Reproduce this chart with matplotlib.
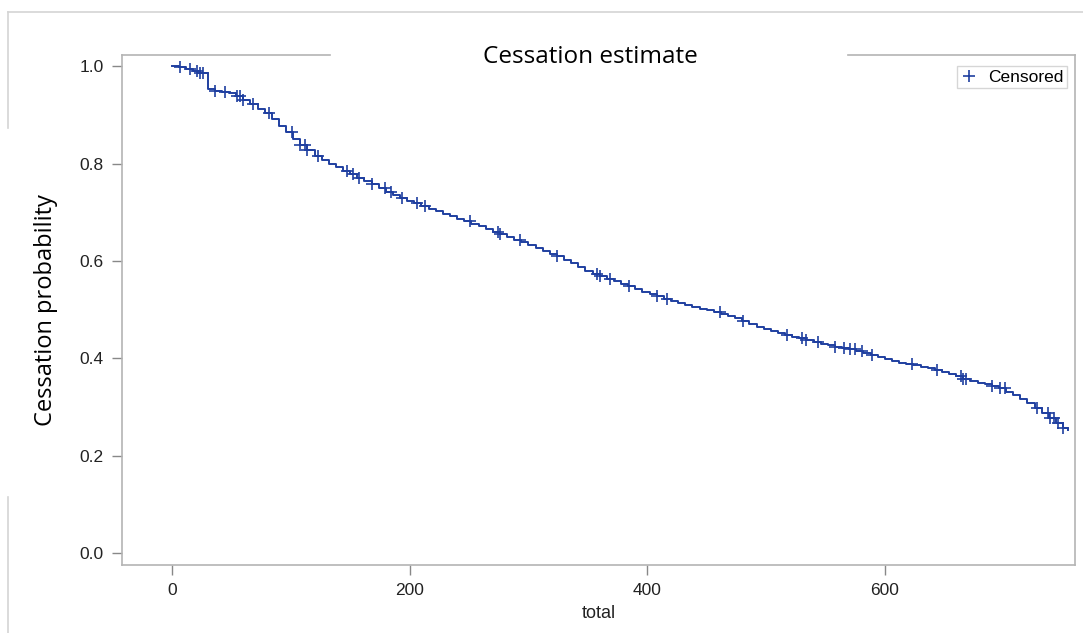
#!/usr/bin/env python3
"""Kaplan-Meier style cessation estimate with censored marks."""

import numpy as np
import matplotlib
matplotlib.use("Agg")
import matplotlib.pyplot as plt
from matplotlib.lines import Line2D

# step curve knots (time, survival)
EVENT_TIMES = [0, 6, 12, 18, 24, 30, 36, 42, 48, 54, 60, 66, 72, 78, 84, 90, 96,
               102, 108, 114, 120, 126, 132, 138, 144, 150, 156, 162, 168, 174,
               180, 186, 192, 198, 204, 210, 216, 222, 228, 234, 240, 246, 252,
               258, 264, 270, 276, 282, 288, 294, 300, 306, 312, 318, 324, 330,
               336, 342, 348, 354, 360, 366, 372, 378, 384, 390, 396, 402, 408,
               414, 420, 426, 432, 438, 444, 450, 456, 462, 468, 474, 480, 486,
               492, 498, 504, 510, 516, 522, 528, 534, 540, 546, 552, 558, 564,
               570, 576, 582, 588, 594, 600, 606, 612, 618, 624, 630, 636, 642,
               648, 654, 660, 666, 672, 678, 684, 690, 696, 702, 708, 714, 720,
               726, 732, 738, 744, 750, 754]
SURVIVAL = [1.0, 0.998, 0.994, 0.99, 0.986, 0.953, 0.95, 0.947, 0.944, 0.938,
            0.93, 0.922, 0.913, 0.903, 0.892, 0.878, 0.864, 0.85, 0.838, 0.827,
            0.816, 0.807, 0.799, 0.792, 0.785, 0.778, 0.771, 0.764, 0.758, 0.75,
            0.742, 0.735, 0.729, 0.724, 0.718, 0.712, 0.707, 0.702, 0.697, 0.692,
            0.686, 0.681, 0.676, 0.671, 0.665, 0.66, 0.655, 0.649, 0.643, 0.638,
            0.632, 0.626, 0.62, 0.615, 0.609, 0.602, 0.595, 0.588, 0.58, 0.574,
            0.568, 0.563, 0.558, 0.553, 0.549, 0.543, 0.537, 0.531, 0.527, 0.522,
            0.518, 0.513, 0.509, 0.505, 0.502, 0.498, 0.494, 0.491, 0.487, 0.482,
            0.477, 0.47, 0.465, 0.46, 0.456, 0.452, 0.448, 0.444, 0.441, 0.437,
            0.434, 0.43, 0.427, 0.424, 0.421, 0.418, 0.414, 0.41, 0.407, 0.403,
            0.399, 0.395, 0.391, 0.388, 0.385, 0.382, 0.379, 0.376, 0.372, 0.368,
            0.363, 0.358, 0.354, 0.35, 0.347, 0.343, 0.338, 0.331, 0.324, 0.316,
            0.307, 0.298, 0.288, 0.278, 0.267, 0.256, 0.253]

CENSORED_TIMES = [7, 15, 21, 24, 26, 36, 45, 55, 57, 60, 68, 82, 101, 108, 112,
                  114, 123, 147, 152, 157, 168, 179, 184, 194, 206, 213, 251, 274,
                  276, 293, 324, 358, 360, 369, 385, 408, 417, 461, 481, 518, 530,
                  534, 544, 558, 566, 571, 575, 581, 589, 623, 644, 664, 666, 668,
                  690, 697, 701, 728, 737, 739, 742, 746, 750]

X_TICKS = [0, 200, 400, 600]
Y_TICKS = [0.0, 0.2, 0.4, 0.6, 0.8, 1.0]

LINE_COLOR = "#1f3fa0"
SPINE_COLOR = "#b4b4b4"
TEXT_COLOR = "#222222"


def step_value(t):
    idx = np.searchsorted(EVENT_TIMES, t, side="right") - 1
    return SURVIVAL[max(idx, 0)]


def main():
    fig = plt.figure(figsize=(10.83, 6.33), dpi=100)
    ax = fig.add_axes([0.1127, 0.1074, 0.8799, 0.8057])

    ax.plot(EVENT_TIMES, SURVIVAL, drawstyle="steps-post", color=LINE_COLOR,
            linewidth=1.4)
    cens_y = [step_value(t) for t in CENSORED_TIMES]
    ax.plot(CENSORED_TIMES, cens_y, linestyle="none", marker="+",
            markersize=9, markeredgewidth=1.2, color=LINE_COLOR)

    ax.set_xlim(-42, 760)
    ax.set_ylim(-0.025, 1.023)
    ax.set_xticks(X_TICKS)
    ax.set_yticks(Y_TICKS)
    ax.set_yticklabels([f"{v:.1f}" for v in Y_TICKS])

    for side in ["left", "bottom", "right"]:
        ax.spines[side].set_color(SPINE_COLOR)
        ax.spines[side].set_linewidth(1.2)
    ax.spines["top"].set_visible(False)
    # top frame broken by the title
    for x0, x1 in [(0.0, 0.218), (0.762, 1.0)]:
        ax.add_line(Line2D([x0, x1], [1, 1], transform=ax.transAxes,
                           color=SPINE_COLOR, linewidth=1.2, clip_on=False))

    ax.tick_params(axis="both", direction="out", length=7, width=1,
                   color="#888888", labelsize=12.5, labelcolor=TEXT_COLOR,
                   pad=6)
    for lab in ax.get_xticklabels() + ax.get_yticklabels():
        lab.set_family("Liberation Sans")

    ax.set_xlabel("total", fontsize=13, color=TEXT_COLOR, family="Liberation Sans",
                  labelpad=5)
    ax.set_ylabel("Cessation probability", fontsize=17, color="black",
                  family="Open Sans", labelpad=16)

    fig.text(0.545, 0.91, "Cessation estimate", ha="center", va="center",
             fontsize=17.5, family="Open Sans", color="black")

    handle = Line2D([], [], linestyle="none", marker="+", markersize=9,
                    markeredgewidth=1.2, color=LINE_COLOR)
    leg = ax.legend([handle], ["Censored"], loc="upper right",
                    bbox_to_anchor=(0.995, 0.985), frameon=True, fancybox=False,
                    prop={"family": "Liberation Sans", "size": 12.5},
                    handlelength=1.0, handletextpad=0.6, borderpad=0.2,
                    borderaxespad=0.2)
    leg.get_frame().set_edgecolor("#cccccc")
    leg.get_frame().set_linewidth(1.0)

    # outer screenshot frame
    frame_kw = dict(transform=fig.transFigure, color="#d4d4d4", linewidth=1.2)
    fig.add_artist(Line2D([8 / 1083, 1.0], [1 - 12 / 633, 1 - 12 / 633], **frame_kw))
    fig.add_artist(Line2D([8 / 1083, 8 / 1083], [1 - 12 / 633, 1 - 128 / 633], **frame_kw))
    fig.add_artist(Line2D([8 / 1083, 8 / 1083], [1 - 497 / 633, 0.0], **frame_kw))

    fig.savefig("out.png", dpi=100)
    plt.close(fig)


if __name__ == "__main__":
    main()
